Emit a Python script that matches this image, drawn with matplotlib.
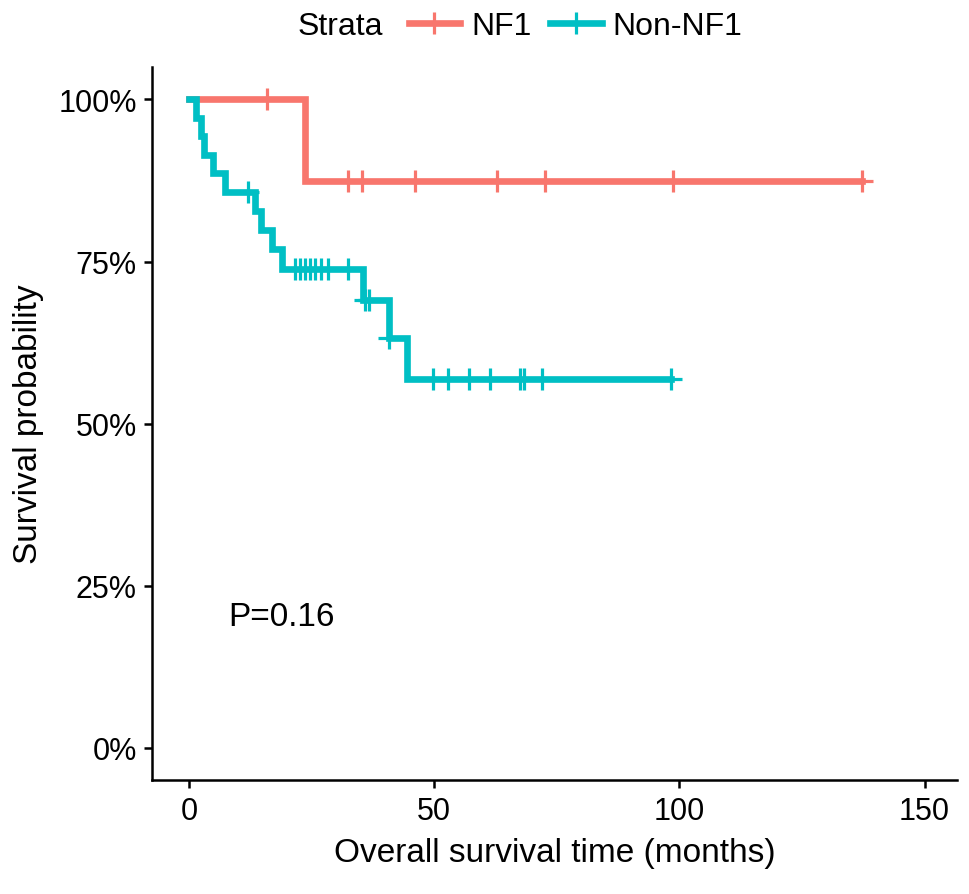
import numpy as np
import matplotlib
matplotlib.use('Agg')
import matplotlib.pyplot as plt
from matplotlib.lines import Line2D

plt.rcParams['font.family'] = ['Liberation Sans', 'DejaVu Sans']

# NF1 group
nf1_event_t = [23.7]
nf1_surv = [0.875]
nf1_censor = [16.0, 32.4, 35.2, 46.1, 62.8, 72.7, 98.8, 137.3]
nf1_end = 137.3

# Non-NF1 group
non_event_t = [1.5, 2.5, 3.0, 4.9, 7.3, 13.5, 14.8, 16.9, 18.9, 35.6, 40.7, 44.4]
non_surv = [0.971, 0.943, 0.914, 0.886, 0.857, 0.828, 0.798, 0.769, 0.739,
            0.690, 0.632, 0.569]
non_censor = [12.0, 21.6, 22.6, 23.7, 24.7, 25.7, 26.9, 28.3, 32.5, 35.9, 36.7,
              40.9, 49.7, 52.9, 57.1, 61.4, 67.6, 68.4, 72.1, 98.4]
non_end = 98.4

groups = ['NF1', 'Non-NF1']
colors = ['#F8766D', '#00BFC4']
p_text = 'P=0.16'


def surv_at(t, ev_t, surv):
    idx = np.searchsorted(ev_t, t, side='right')
    lv = np.concatenate([[1.0], surv])
    return lv[idx]


fig = plt.figure(figsize=(9.69, 8.95), dpi=100)
ax = fig.add_axes([0.157, 0.127, 0.831, 0.797])

data = [(nf1_event_t, nf1_surv, nf1_censor, nf1_end),
        (non_event_t, non_surv, non_censor, non_end)]

for (ev_t, surv, cens, end), col in zip(data, colors):
    xs = [0] + list(ev_t) + [end]
    ys = [1.0] + list(surv) + [surv[-1]]
    ax.step(xs, ys, where='post', color=col, lw=4.8, solid_joinstyle='miter')
    cy = surv_at(np.array(cens), np.array(ev_t), np.array(surv))
    ax.plot(cens, cy, ls='none', marker='+', ms=16, mew=2.3, color=col)

ax.text(8.0, 0.203, p_text, fontsize=24, ha='left', va='center')

ax.set_xlim(-7.5, 156.7)
ax.set_ylim(-0.05, 1.05)
ax.set_xticks([0, 50, 100, 150])
ax.set_yticks([0, 0.25, 0.5, 0.75, 1.0])
ax.set_yticklabels(['0%', '25%', '50%', '75%', '100%'])
ax.spines['top'].set_visible(False)
ax.spines['right'].set_visible(False)
for s in ['left', 'bottom']:
    ax.spines[s].set_linewidth(1.8)
ax.tick_params(axis='both', labelsize=22, length=6, width=1.8, colors='black',
               pad=5)
ax.set_xlabel('Overall survival time (months)', fontsize=24, labelpad=8)
ax.set_ylabel('Survival probability', fontsize=24, labelpad=10)

handles = [Line2D([0], [0], color=c, lw=4.8, marker='+', ms=16, mew=2.3)
           for c in colors]
fig.text(0.351, 0.970, 'Strata', fontsize=23, ha='center', va='center')
fig.legend(handles, groups, ncol=2, loc='center', bbox_to_anchor=(0.594, 0.970),
           frameon=False, fontsize=23, handlelength=1.6, handletextpad=0.35,
           columnspacing=0.6, borderpad=0)

fig.savefig('out.png', dpi=100)
